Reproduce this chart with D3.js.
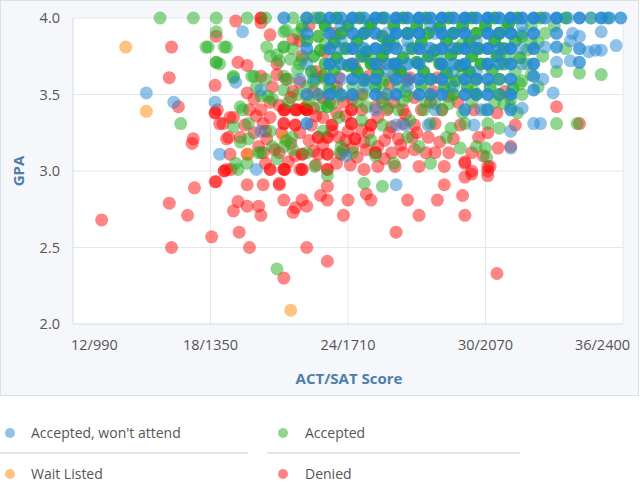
<!DOCTYPE html>
<html>
<head>
<meta charset="utf-8">
<script src="https://cdn.jsdelivr.net/npm/d3@7"></script>
<style>
  body { margin: 0; background: #fff; }
  svg { display: block; font-family: "Open Sans", "Noto Sans", sans-serif; }
</style>
</head>
<body>
<svg width="640" height="494"></svg>
<script>
// ticks
var xTicks = [12, 18, 24, 30, 36];
var xTickLabels = ["12/990", "18/1350", "24/1710", "30/2070", "36/2400"];
var yTicks = [2.0, 2.5, 3.0, 3.5, 4.0];

var seriesNames = ["Accepted, won't attend", "Accepted", "Wait Listed", "Denied"];

// [ACT, GPA, how many applicants sit on that spot (default 1)]
var denied = [
  [13.25,2.68],[16.2,2.79],[17.0,2.71],[17.3,2.89],[16.3,2.50],[18.05,2.57],[18.2,2.93],[19.0,2.74],
  [19.25,2.60],[19.7,2.50],[19.6,2.91],[20.3,2.91],[21.0,2.91],[19.2,2.80],[19.6,2.77],[20.1,2.77],
  [20.2,2.71],[21.2,2.81],[21.7,2.76],[21.6,2.73],[22.0,2.81],[22.2,2.77],[22.8,2.84],[23.1,2.81],
  [23.1,2.90],[24.0,2.81],[23.8,2.71],[24.8,2.85],[25.0,2.81],[26.6,2.81],[27.1,2.71],[26.1,2.60],
  [27.9,2.81],[28.2,2.91],[29.0,2.84],[29.1,2.71],[29.1,2.96],[29.4,2.98],[30.1,2.97],[22.2,2.50],
  [23.1,2.41],[21.2,2.30],[30.5,2.33],[18.6,3.00,2],
  [16.3,3.81],[16.2,3.61],[16.6,3.42],[17.25,3.21],[17.2,3.18],[19.1,3.98],[20.2,4.0,2],[18.25,3.88],
  [18.2,3.56],[18.2,3.38,2],[18.4,3.31],[18.85,3.35],[18.8,3.22],[18.85,3.11],[18.7,3.01],[18.25,2.93],
  [19.2,3.71],[19.6,3.69],[19.6,3.51],[19.3,3.22],[20.1,3.16],[20.6,3.01,2],[21.2,3.01,2],[21.6,3.86],
  [20.6,3.35],[21.2,3.40,2],[21.2,3.31,2],[20.3,3.31],[21.75,3.40,2],[22.2,3.40,3],[21.0,3.12],
  [20.3,3.12],[22.0,3.01,2],[21.0,2.92],
  [20.2,3.97],[20.6,3.89],[20.9,3.70],[20.2,3.62],[20.2,3.40],[18.3,3.40],[18.55,3.31],[19.0,3.35],
  [19.7,3.40],[21.0,3.43],[21.25,3.40],[21.7,3.40],[22.1,3.41,2],[22.5,3.41],[21.7,3.30,2],[23.3,3.30,2],
  [22.7,3.22,2],[23.1,3.22,2],[23.6,3.22],[18.7,3.21],[20.45,3.21],[20.8,3.14],[22.0,3.11,2],[22.7,3.11],
  [23.1,3.11,2],[23.7,3.11],[19.6,3.11],[21.25,3.01],[21.9,3.01],[23.1,3.01,2],[18.9,3.01],
  [24.15,3.40,2],[24.15,3.31,2],[24.6,3.40],[24.3,3.21,2],[24.7,3.19],[25.2,3.12,2],[25.9,3.12],[26.4,3.12],
  [26.8,3.22],[26.4,3.31],[25.9,3.29],[26.4,3.40],[25.7,3.40],[25.3,3.03],[26.05,3.03],[27.1,3.03],
  [27.8,3.12],[28.2,3.03],[29.1,3.06],[30.1,3.03],[27.4,3.12],[23.8,3.14],[24.7,3.01],[27.8,3.31],
  [28.6,3.21],[29.7,3.22],[30.1,3.25],[25.0,3.30,2],[28.1,3.40],[28.4,3.49],[27.7,3.52],[26.6,3.59],
  [25.8,3.57],[24.9,3.62],[24.15,3.70],
  [33.1,3.42],[34.1,3.31],[31.3,3.30],[30.55,3.15],[31.1,3.16],[30.2,3.03],[30.85,3.52],
  [22.0,3.75],[22.6,3.65],[21.3,3.60],[23.5,3.55],[22.9,3.48],[23.8,3.45],[21.6,3.52],[20.7,3.55],
  [19.9,3.47],[22.4,3.30],[22.9,3.35],[23.5,3.38],[24.0,3.26],[24.4,3.09],[25.6,3.20],[25.3,3.35],
  [26.0,3.45],[27.2,3.40],[27.0,3.25],[28.0,3.19],[28.9,3.30],[29.4,3.12],[26.9,3.48],[24.6,3.50],
  [25.5,3.48],[22.6,3.04],[23.5,3.05],[24.1,3.04],[20.4,3.05],[19.9,3.25],[21.5,3.18],[22.3,3.20],
  [24.9,3.25],[26.2,3.21],[29.1,3.05],[30.1,3.00],[29.4,3.00],
  [23.4,3.90],[23.6,3.61],[26.7,3.61],[27.9,3.61],[22.3,3.95],[21.9,3.85],[23.0,3.78],[24.3,3.68],
  [25.4,3.70],[26.2,3.66],[20.6,3.45],[21.9,3.25],[22.6,3.36],[23.9,3.36],[24.8,3.14],[25.6,3.08],
  [26.9,3.14],[27.5,3.22],[28.4,3.12],[29.9,3.10],[19.5,3.30],[20.0,3.36],[21.4,3.06],[22.9,3.17],
  [21.5,3.48],[22.5,3.52],[23.2,3.45],[24.2,3.47],[25.2,3.42],[26.5,3.37],[27.6,3.45],[28.8,3.45],
  [29.5,3.40],[30.5,3.38],[20.9,3.63],[21.9,3.58],[22.9,3.62],[20.4,3.26],[21.1,3.25],[23.3,3.26],
  [24.6,3.27],[25.8,3.25],[26.9,3.30],[23.9,3.20],[25.3,3.16],[26.3,3.17],[22.5,3.13],[21.7,3.10],
  [24.2,3.15]
];

var accepted = [
  [15.8,4.0],[17.25,4.0],[18.25,4.0],[19.6,4.0],[17.9,3.81],[18.7,3.81],[18.25,3.91],[18.25,3.71,2],
  [16.7,3.31],[20.45,3.81],[21.2,3.91],[19.0,3.61],[19.3,3.42],[19.65,3.31],[19.65,3.21],[19.1,3.05],
  [19.2,3.01],[20.2,3.49],[20.9,2.36],[18.4,3.70],[19.8,3.62],[20.6,3.75],[21.0,3.72],[20.4,3.60],
  [20.0,3.55],[19.4,3.40],[20.7,3.47],[21.4,3.45],[19.3,3.19],[20.1,3.12],[20.6,3.26],[21.3,3.20],
  [19.6,3.05],[20.9,3.08],[21.6,3.14],
  [17.8,3.81],[18.6,3.81],[21.2,3.81,2],[21.2,3.62],[21.2,3.53],[20.9,3.76],[21.5,3.73],[21.8,3.66],
  [22.6,3.60],[21.3,3.92],[20.4,4.0],[22.2,4.0],[22.55,4.0],[19.0,3.62],[19.9,3.62],[20.5,3.49],
  [19.0,3.29],[20.7,3.16],[21.2,3.16],[21.55,3.22],[22.2,3.12],[22.55,3.03],[23.1,3.42,2],[23.65,3.12],
  [20.2,3.12],
  [21.6,4.0],[22.8,4.0,2],[23.5,4.0,3],[24.5,4.0,3],[25.5,4.0,3],[26.4,4.0,3],[27.4,4.0,3],[28.4,4.0,3],
  [29.4,4.0,3],[30.4,4.0,3],[31.4,4.0,3],[32.4,4.0,2],[33.5,4.0,2],[34.6,4.0],[35.3,4.0],
  [22.0,3.95],[23.0,3.95,3],[24.0,3.95,3],[25.0,3.96,3],[26.0,3.95,3],[27.0,3.95,3],[28.0,3.94,3],[29.0,3.95,3],
  [30.0,3.95,3],[31.0,3.96,3],[32.0,3.95],[33.0,3.95],
  [21.8,3.90],[22.7,3.88,2],[23.7,3.90,3],[24.7,3.90,3],[25.5,3.88,3],[26.6,3.90,3],[27.5,3.90,3],[28.6,3.90,3],
  [29.6,3.90,3],[30.6,3.90,3],[31.6,3.88,2],[32.6,3.90],
  [22.2,3.85,2],[23.4,3.84,3],[24.4,3.85,3],[25.8,3.85,3],[27.2,3.84,3],[28.3,3.85,3],[29.3,3.84,3],[30.4,3.85,3],
  [31.3,3.85,2],[32.3,3.84],
  [21.6,3.80],[22.8,3.79,2],[23.9,3.80,3],[24.8,3.78,3],[25.6,3.80,3],[26.8,3.80,3],[27.8,3.79,3],[28.8,3.80,3],
  [29.7,3.80,3],[30.8,3.80,3],[31.8,3.79],[33.5,3.80],
  [22.5,3.75,2],[23.5,3.74,3],[24.6,3.75,3],[25.5,3.75,3],[26.4,3.74,3],[27.5,3.75,3],[28.5,3.76,3],[29.4,3.75,3],
  [30.5,3.75,3],[31.5,3.74,2],[32.5,3.75],
  [21.9,3.70],[23.0,3.70,2],[24.0,3.69,3],[25.0,3.70,3],[26.0,3.70,3],[27.0,3.71,3],[28.0,3.70,3],[28.9,3.69,3],
  [29.8,3.70,3],[30.8,3.70,2],[31.8,3.70],
  [22.4,3.65,2],[23.4,3.66,2],[24.4,3.65,3],[25.3,3.64,3],[26.3,3.65,3],[27.3,3.65,3],[28.3,3.64,3],[29.3,3.65,3],
  [30.3,3.66,2],[31.3,3.65],[33.1,3.65],[34.1,3.64],[35.05,3.63],
  [21.4,3.60],[23.0,3.60],[24.7,3.59,2],[25.6,3.60],[27.6,3.60,2],[28.7,3.59,2],[29.6,3.60,2],[30.6,3.60,2],
  [31.6,3.59],
  [22.2,3.55],[23.2,3.54,2],[24.2,3.55],[25.2,3.55,2],[26.2,3.55],[27.2,3.56,2],[28.2,3.55,2],[29.2,3.55,2],
  [30.2,3.55,2],[31.2,3.54,2],[32.3,3.55],
  [21.8,3.50],[22.7,3.50],[23.7,3.49],[24.7,3.50],[25.7,3.50],[26.6,3.49],[27.6,3.50],[28.6,3.50,2],
  [29.6,3.50,2],[30.6,3.50,2],[31.1,3.47],[31.6,3.50],
  [22.3,3.45],[23.3,3.44],[24.4,3.45],[25.5,3.45],[26.4,3.46],[27.4,3.45],[28.4,3.44],[29.4,3.45],
  [30.4,3.45],[31.1,3.42],[31.4,3.38],
  [25.75,3.41],[26.2,3.40],[27.3,3.40],[28.1,3.40],[29.0,3.38],[30.0,3.40],
  [23.6,3.35],[24.6,3.33],[25.5,3.30],[26.7,3.33],[27.6,3.31],[29.1,3.31],[30.1,3.31],[33.1,3.31],
  [34.0,3.31],[28.5,3.28],[30.6,3.28],
  [27.1,3.16],[27.6,3.05],[28.9,3.15],[30.0,3.15],[30.05,3.09],[23.7,3.16],[23.1,2.97],[25.2,3.10],
  [29.6,3.16],[24.7,2.92],[25.5,2.90],[26.6,3.22],[25.0,3.20],[28.3,3.22],[24.2,3.12],[26.0,3.05],
  [22.9,3.26],
  [22.0,3.93],[24.9,3.93],[27.9,3.93],[30.9,3.93],[23.0,3.83],[26.0,3.83],[29.0,3.83],[32.0,3.83],
  [22.0,3.73],[25.0,3.73],[28.0,3.73],[31.0,3.73],[23.0,3.63],[26.0,3.63],[29.0,3.63],[32.0,3.63],
  [22.5,3.58],[25.5,3.57],[28.5,3.57],[31.5,3.57],[23.5,3.52],[26.5,3.52],[29.5,3.52],[22.8,3.42],
  [24.8,3.42],[27.8,3.44],[30.8,3.44]
];

var waitListed = [
  [14.3,3.81],[15.2,3.39],[19.65,3.11],[21.2,3.22],[21.5,2.09],[22.2,3.48]
];

var wontAttend = [
  [15.2,3.51],[16.4,3.45],[19.4,3.91],[18.2,3.45],[18.4,3.11],[20.0,3.01],[20.2,3.26],[19.1,3.58],
  [20.2,3.53],[22.2,3.31,2],[26.1,2.91],[31.1,3.26],
  [21.2,4.0,2],[22.2,4.0,2],[22.7,4.0],[23.2,4.0,3],[23.7,4.0,2],[24.2,4.0,4],[24.7,4.0,2],[25.2,4.0,4],
  [25.6,4.0,2],[26.1,4.0,4],[26.6,4.0,3],[27.1,4.0,5],[27.6,4.0,3],[28.1,4.0,5],[28.6,4.0,3],[29.1,4.0,5],
  [29.6,4.0,3],[30.1,4.0,5],[30.6,4.0,3],[31.1,4.0,5],[31.6,4.0,3],[32.1,4.0,4],[32.6,4.0,2],[33.1,4.0,4],
  [33.6,4.0],[34.1,4.0,3],[34.6,4.0],[35.05,4.0,3],[35.4,4.0,2],[35.9,4.0,2],
  [22.2,3.90,2],[23.2,3.90,3],[24.2,3.90,3],[25.2,3.90,3],[25.7,3.90],[26.1,3.90,4],[27.1,3.90,4],[27.8,3.90],
  [28.1,3.90,4],[29.1,3.90,4],[30.1,3.90,4],[31.1,3.90,4],[32.1,3.90,3],[33.1,3.90,2],[33.8,3.90],
  [34.1,3.88],[35.05,3.91],
  [22.2,3.80,2],[23.2,3.80,3],[23.7,3.80],[24.2,3.80,4],[25.2,3.80,4],[26.1,3.80,3],[26.6,3.80],[27.1,3.80,4],
  [28.1,3.80,4],[29.1,3.80,4],[30.1,3.80,4],[31.1,3.80,4],[32.1,3.80,3],[32.6,3.81],[33.1,3.81,2],[34.1,3.80,2],
  [34.5,3.78],[35.05,3.79],[35.7,3.82],
  [22.2,3.70],[23.2,3.70,3],[24.2,3.70,3],[25.2,3.70,3],[26.1,3.70,4],[27.1,3.70,3],[28.1,3.70,4],[29.1,3.70,4],
  [30.1,3.70,4],[31.1,3.70,3],[32.1,3.70,3],[33.1,3.71],[33.7,3.72],[34.1,3.71,2],
  [21.9,3.60],[22.5,3.60],[23.2,3.60,3],[24.2,3.60,3],[25.2,3.60,3],[26.1,3.60,3],[27.1,3.60,3],[28.1,3.60,3],
  [29.1,3.60,3],[30.1,3.60,3],[31.1,3.60,3],[32.1,3.62,2],[32.5,3.60],
  [22.2,3.50,2],[23.2,3.50,3],[24.2,3.50,3],[25.2,3.50,3],[26.1,3.50,3],[27.1,3.50,3],[28.1,3.50,3],[29.1,3.50,3],
  [30.1,3.50,3],[31.1,3.50,3],[32.1,3.53,2],[32.95,3.51],
  [25.2,3.40],[27.8,3.40],[29.1,3.40,2],[29.8,3.40],[30.1,3.40,2],[31.1,3.40,2],[31.6,3.41],
  [26.1,3.30],[26.5,3.30],[27.5,3.30],[29.5,3.30],[32.1,3.31],[32.4,3.31],
  [23.7,3.85],[24.7,3.75],[25.7,3.65],[26.6,3.85],[27.6,3.75],[28.6,3.65],[29.6,3.85],[30.6,3.75],
  [31.6,3.95],[24.7,3.55],[26.6,3.55],[28.6,3.55],[23.7,3.95],[25.7,3.85],[27.6,3.95],[29.6,3.65],
  [33.7,3.85],[34.8,3.79],[31.1,3.15],[23.9,3.10],
  [24.7,3.90,2],[26.6,3.90,2],[28.6,3.90,2],[30.6,3.90,2],[31.6,3.90],
  [24.7,3.80,2],[25.7,3.80,2],[27.6,3.80,2],[28.6,3.80,2],[29.6,3.80,2],[30.6,3.80,2],[31.6,3.80],
  [23.7,3.70,2],[25.7,3.70,2],[26.6,3.70,2],[28.6,3.70,2],[30.6,3.70,2],[31.6,3.70],
  [23.7,3.60],[24.7,3.60,2],[26.6,3.60,2],[27.6,3.60,2],[29.6,3.60,2],[30.6,3.60],
  [22.7,3.50],[23.7,3.50,2],[25.7,3.50],[27.6,3.50,2],[29.6,3.50,2],[30.6,3.50]
];

var colors = ["#2388d3", "#22ad22", "#ff8800", "#ff0a0a"];

var svg = d3.select("svg");

// panel
svg.append("rect")
  .attr("x", 0.5).attr("y", 0.5)
  .attr("width", 638).attr("height", 395)
  .attr("fill", "#f5f7fa")
  .attr("stroke", "#d9e0e8");

var x = d3.scaleLinear().domain([12, 36]).range([73, 623]);
var y = d3.scaleLinear().domain([2, 4]).range([324, 18]);

svg.append("rect")
  .attr("x", x(12)).attr("y", y(4))
  .attr("width", x(36) - x(12)).attr("height", y(2) - y(4))
  .attr("fill", "#fff");

// grid
svg.append("g")
  .selectAll("line")
  .data(xTicks.slice(1))
  .enter().append("line")
  .attr("x1", d => x(d)).attr("x2", d => x(d))
  .attr("y1", y(4)).attr("y2", y(2))
  .attr("stroke", "#e3e8ef");

svg.append("g")
  .selectAll("line")
  .data(yTicks.slice(1))
  .enter().append("line")
  .attr("x1", x(12)).attr("x2", x(36))
  .attr("y1", d => y(d)).attr("y2", d => y(d))
  .attr("stroke", "#e3e8ef");

// axis lines
svg.append("line")
  .attr("x1", x(12)).attr("x2", x(12)).attr("y1", y(4)).attr("y2", y(2))
  .attr("stroke", "#d2dbe5");
svg.append("line")
  .attr("x1", x(12)).attr("x2", x(36)).attr("y1", y(2)).attr("y2", y(2))
  .attr("stroke", "#d2dbe5");

// tick labels
svg.append("g")
  .selectAll("text")
  .data(xTicks)
  .enter().append("text")
  .attr("x", (d, i) => i == 0 ? 71 : (i == xTicks.length - 1 ? 630 : x(d)))
  .attr("y", 350)
  .attr("text-anchor", (d, i) => i == 0 ? "start" : (i == xTicks.length - 1 ? "end" : "middle"))
  .attr("font-size", 14.5)
  .attr("fill", "#555")
  .text((d, i) => xTickLabels[i]);

svg.append("g")
  .selectAll("text")
  .data(yTicks)
  .enter().append("text")
  .attr("x", 60)
  .attr("y", d => y(d) + 5)
  .attr("text-anchor", "end")
  .attr("font-size", 14.5)
  .attr("fill", "#555")
  .text(d => d.toFixed(1));

// axis titles
svg.append("text")
  .attr("transform", "translate(24," + y(3) + ") rotate(-90)")
  .attr("text-anchor", "middle")
  .attr("font-size", 15)
  .attr("font-weight", "bold")
  .attr("fill", "#4d7eab")
  .text("GPA");

svg.append("text")
  .attr("x", 349).attr("y", 384)
  .attr("text-anchor", "middle")
  .attr("font-size", 15)
  .attr("font-weight", "bold")
  .attr("fill", "#4d7eab")
  .text("ACT/SAT Score");

// points: a spot shared by n applicants looks like n stacked half-transparent dots
var drawOrder = [[denied, 3], [waitListed, 2], [accepted, 1], [wontAttend, 0]];
drawOrder.forEach(function(s) {
  svg.append("g")
    .selectAll("circle")
    .data(s[0])
    .enter().append("circle")
    .attr("cx", d => x(d[0]))
    .attr("cy", d => y(d[1]))
    .attr("r", 6.5)
    .attr("fill", colors[s[1]])
    .attr("fill-opacity", d => 1 - Math.pow(0.5, d[2] || 1));
});

// legend
var legend = svg.append("g")
  .selectAll("g")
  .data(seriesNames)
  .enter().append("g")
  .attr("transform", (d, i) => "translate(" + (i % 2 == 0 ? 0 : 267) + "," + (i < 2 ? 433 : 474) + ")");

legend.append("circle")
  .attr("cx", (d, i) => i % 2 == 0 ? 10 : 16)
  .attr("cy", 0)
  .attr("r", 5)
  .attr("fill", (d, i) => colors[i])
  .attr("fill-opacity", 0.5);

legend.append("text")
  .attr("x", (d, i) => i % 2 == 0 ? 31 : 38)
  .attr("y", 5)
  .attr("font-size", 14)
  .attr("fill", "#555")
  .text(d => d);

legend.filter((d, i) => i < 2).append("line")
  .attr("x1", 0).attr("x2", (d, i) => i == 0 ? 248 : 253)
  .attr("y1", 20).attr("y2", 20)
  .attr("stroke", "#c5cfdb");
</script>
</body>
</html>
